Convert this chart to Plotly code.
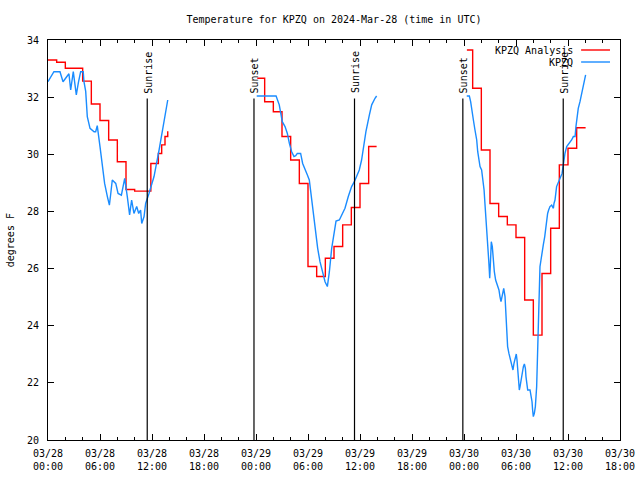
import plotly.graph_objects as go

# ---------------- data ----------------
analysis_times = [
    "2024-03-28 00:00", "2024-03-28 01:00", "2024-03-28 02:00", "2024-03-28 04:00",
    "2024-03-28 05:00", "2024-03-28 06:00", "2024-03-28 07:00", "2024-03-28 08:00",
    "2024-03-28 09:00", "2024-03-28 10:00", "2024-03-28 11:52", "2024-03-28 12:44",
    "2024-03-28 13:07", "2024-03-28 13:30", "2024-03-28 13:49",
    None,
    "2024-03-29 00:09", "2024-03-29 01:00", "2024-03-29 02:00", "2024-03-29 03:00",
    "2024-03-29 04:00", "2024-03-29 05:00", "2024-03-29 06:00", "2024-03-29 07:00",
    "2024-03-29 08:00", "2024-03-29 09:00", "2024-03-29 10:00", "2024-03-29 11:00",
    "2024-03-29 12:00", "2024-03-29 13:00", "2024-03-29 13:55",
    None,
    "2024-03-30 00:20", "2024-03-30 01:00", "2024-03-30 02:00", "2024-03-30 03:00",
    "2024-03-30 04:00", "2024-03-30 05:00", "2024-03-30 06:00", "2024-03-30 07:00",
    "2024-03-30 08:00", "2024-03-30 09:00", "2024-03-30 10:00", "2024-03-30 11:00",
    "2024-03-30 12:00", "2024-03-30 13:00", "2024-03-30 14:02",
]
analysis_temps = [
    33.30, 33.22, 33.01, 32.56, 31.76, 31.18, 30.50, 29.74, 28.77, 28.71, 29.68, 30.03,
    30.33, 30.62, 30.81,
    None,
    32.66, 31.84, 31.49, 30.62, 29.80, 28.98, 26.07, 25.72, 26.36, 26.77, 27.53, 28.14,
    28.98, 30.27, 30.27,
    None,
    33.65, 32.31, 30.15, 28.28, 27.82, 27.53, 27.09, 24.90, 23.67, 25.83, 27.41, 29.63,
    30.21, 30.93, 30.93,
]

obs_times = [
    # 03/28
    "2024-03-28 00:00", "2024-03-28 00:41", "2024-03-28 01:23", "2024-03-28 01:44",
    "2024-03-28 02:25", "2024-03-28 02:37", "2024-03-28 02:55", "2024-03-28 03:16",
    "2024-03-28 03:30", "2024-03-28 03:46", "2024-03-28 04:04", "2024-03-28 04:09",
    "2024-03-28 04:21", "2024-03-28 04:32", "2024-03-28 04:51", "2024-03-28 05:19",
    "2024-03-28 05:30", "2024-03-28 05:41", "2024-03-28 06:00", "2024-03-28 06:16",
    "2024-03-28 06:32", "2024-03-28 06:51", "2024-03-28 07:05", "2024-03-28 07:14",
    "2024-03-28 07:25", "2024-03-28 07:49", "2024-03-28 08:05", "2024-03-28 08:28",
    "2024-03-28 08:41", "2024-03-28 08:51", "2024-03-28 09:09", "2024-03-28 09:25",
    "2024-03-28 09:39", "2024-03-28 09:55", "2024-03-28 10:14", "2024-03-28 10:28",
    "2024-03-28 10:41", "2024-03-28 10:49", "2024-03-28 11:05", "2024-03-28 11:16",
    "2024-03-28 11:39", "2024-03-28 12:14", "2024-03-28 12:49", "2024-03-28 13:23",
    "2024-03-28 13:49",
    None,
    # 03/29
    "2024-03-29 00:05", "2024-03-29 02:19", "2024-03-29 02:41", "2024-03-29 02:51",
    "2024-03-29 03:02", "2024-03-29 03:21", "2024-03-29 03:37", "2024-03-29 03:51",
    "2024-03-29 04:07", "2024-03-29 04:23", "2024-03-29 04:35", "2024-03-29 04:46",
    "2024-03-29 05:09", "2024-03-29 05:23", "2024-03-29 05:39", "2024-03-29 05:55",
    "2024-03-29 06:09", "2024-03-29 06:19", "2024-03-29 06:32", "2024-03-29 06:49",
    "2024-03-29 07:07", "2024-03-29 07:23", "2024-03-29 07:41", "2024-03-29 07:58",
    "2024-03-29 08:14", "2024-03-29 08:28", "2024-03-29 08:44", "2024-03-29 09:00",
    "2024-03-29 09:14", "2024-03-29 09:37", "2024-03-29 09:53", "2024-03-29 10:16",
    "2024-03-29 10:39", "2024-03-29 11:02", "2024-03-29 11:21", "2024-03-29 11:37",
    "2024-03-29 11:55", "2024-03-29 12:11", "2024-03-29 12:23", "2024-03-29 12:41",
    "2024-03-29 13:05", "2024-03-29 13:21", "2024-03-29 13:44", "2024-03-29 13:55",
    None,
    # 03/30
    "2024-03-30 00:19", "2024-03-30 00:37", "2024-03-30 00:46", "2024-03-30 00:53",
    "2024-03-30 01:05", "2024-03-30 01:16", "2024-03-30 01:28", "2024-03-30 01:35",
    "2024-03-30 01:44", "2024-03-30 01:51", "2024-03-30 02:02", "2024-03-30 02:09",
    "2024-03-30 02:19", "2024-03-30 02:25", "2024-03-30 02:32", "2024-03-30 02:37",
    "2024-03-30 02:44", "2024-03-30 02:51", "2024-03-30 02:55", "2024-03-30 02:58",
    "2024-03-30 03:02", "2024-03-30 03:09", "2024-03-30 03:16", "2024-03-30 03:23",
    "2024-03-30 03:30", "2024-03-30 03:39", "2024-03-30 03:46", "2024-03-30 03:53",
    "2024-03-30 04:02", "2024-03-30 04:09", "2024-03-30 04:16", "2024-03-30 04:28",
    "2024-03-30 04:35", "2024-03-30 04:44", "2024-03-30 04:49", "2024-03-30 04:55",
    "2024-03-30 05:02", "2024-03-30 05:11", "2024-03-30 05:19", "2024-03-30 05:25",
    "2024-03-30 05:32", "2024-03-30 05:39", "2024-03-30 05:46", "2024-03-30 05:55",
    "2024-03-30 06:02", "2024-03-30 06:07", "2024-03-30 06:11", "2024-03-30 06:19",
    "2024-03-30 06:23", "2024-03-30 06:28", "2024-03-30 06:35", "2024-03-30 06:41",
    "2024-03-30 06:51", "2024-03-30 06:58", "2024-03-30 07:05", "2024-03-30 07:09",
    "2024-03-30 07:14", "2024-03-30 07:21", "2024-03-30 07:37", "2024-03-30 07:44",
    "2024-03-30 07:51", "2024-03-30 07:55", "2024-03-30 08:00", "2024-03-30 08:07",
    "2024-03-30 08:14", "2024-03-30 08:23", "2024-03-30 08:28", "2024-03-30 08:32",
    "2024-03-30 08:37", "2024-03-30 08:41", "2024-03-30 08:46", "2024-03-30 08:53",
    "2024-03-30 09:00", "2024-03-30 09:09", "2024-03-30 09:19", "2024-03-30 09:25",
    "2024-03-30 09:32", "2024-03-30 09:39", "2024-03-30 09:46", "2024-03-30 09:55",
    "2024-03-30 10:07", "2024-03-30 10:19", "2024-03-30 10:23", "2024-03-30 10:30",
    "2024-03-30 10:41", "2024-03-30 10:53", "2024-03-30 11:05", "2024-03-30 11:19",
    "2024-03-30 11:28", "2024-03-30 11:39", "2024-03-30 11:51", "2024-03-30 12:09",
    "2024-03-30 12:25", "2024-03-30 12:37", "2024-03-30 12:49", "2024-03-30 12:55",
    "2024-03-30 13:05", "2024-03-30 13:11", "2024-03-30 13:23", "2024-03-30 13:35",
    "2024-03-30 13:46", "2024-03-30 14:02",
]
obs_temps = [
    # 03/28
    32.54, 32.89, 32.89, 32.54, 32.82, 32.25, 32.89, 32.08,
    32.50, 32.89, 32.89, 32.54, 32.20, 31.32, 30.91, 30.79,
    30.79, 31.00, 30.27, 29.57, 28.98, 28.52, 28.22, 28.60,
    29.10, 28.98, 28.63, 28.57, 28.87, 29.16, 28.52, 27.88,
    28.40, 27.93, 28.17, 27.93, 28.05, 27.58, 27.82, 28.28,
    28.63, 29.22, 30.15, 31.20, 31.90,
    None,
    # 03/29
    32.04, 32.04, 31.73, 31.38, 31.14, 30.97, 30.73, 30.38,
    30.09, 29.92, 29.95, 30.03, 30.03, 29.68, 29.45, 29.28,
    29.10, 28.69, 28.11, 27.41, 26.71, 26.24, 25.83, 25.54,
    25.37, 25.89, 26.71, 27.29, 27.66, 27.70, 27.88, 28.11,
    28.52, 28.87, 29.04, 29.22, 29.45, 29.80, 30.21, 30.79,
    31.38, 31.73, 31.96, 32.04,
    None,
    # 03/30
    32.04, 32.04, 31.84, 31.55, 31.20, 30.85, 30.50, 30.09,
    29.68, 29.57, 29.45, 29.22, 28.75, 28.28, 27.82, 27.30,
    26.80, 26.30, 25.95, 25.66, 26.07, 26.94, 26.77, 26.30,
    25.89, 25.60, 25.48, 25.37, 25.25, 25.02, 24.84, 25.13,
    25.31, 25.02, 24.38, 23.73, 23.27, 23.03, 22.86, 22.74,
    22.57, 22.45, 22.68, 22.92, 23.01, 22.80, 22.45, 22.04,
    21.75, 21.87, 22.10, 22.33, 22.57, 22.66, 22.51, 22.22,
    21.92, 21.75, 21.75, 21.57, 21.34, 21.05, 20.82, 20.93,
    21.17, 21.87, 22.80, 23.73, 25.13, 25.83, 26.07, 26.30,
    26.48, 26.83, 27.12, 27.41, 27.64, 27.93, 28.05, 28.17,
    28.22, 28.11, 28.28, 28.40, 28.87, 29.04, 29.16, 29.33,
    29.74, 30.03, 30.27, 30.38, 30.50, 30.62, 30.62, 30.97,
    31.32, 31.61, 31.84, 32.13, 32.48, 32.78,
]

sun_times = ["2024-03-28 11:27", "2024-03-28 23:46", "2024-03-29 11:22",
             "2024-03-29 23:52", "2024-03-30 11:27"]
sun_labels = ["Sunrise", "Sunset", "Sunrise", "Sunset", "Sunrise"]
sun_line_top = 31.95

series_names = ["KPZQ Analysis", "KPZQ"]
series_colors = ["#ff0000", "#1a8cff"]

title_text = "Temperature for KPZQ on 2024-Mar-28 (time in UTC)"
y_title = "degrees F"
x_range = ["2024-03-28 00:00", "2024-03-30 18:00"]
y_range = [20, 34]

FONT = "DejaVu Sans Mono"

# ---------------- figure ----------------
fig = go.Figure()
fig.add_trace(go.Scatter(x=analysis_times, y=analysis_temps, mode="lines",
                         line=dict(color=series_colors[0], width=1.4, shape="hv"),
                         name=series_names[0], connectgaps=False, showlegend=False))
fig.add_trace(go.Scatter(x=obs_times, y=obs_temps, mode="lines",
                         line=dict(color=series_colors[1], width=1.4),
                         name=series_names[1], connectgaps=False, showlegend=False))

for t, lab in zip(sun_times, sun_labels):
    fig.add_shape(type="line", xref="x", yref="y", x0=t, x1=t, y0=y_range[0], y1=sun_line_top,
                  line=dict(color="black", width=1.2))
    fig.add_annotation(x=t, y=sun_line_top, xref="x", yref="y", text=lab, textangle=-90,
                       showarrow=False, xanchor="center", yanchor="bottom", yshift=3, xshift=1,
                       font=dict(family=FONT, size=10, color="black"))

# legend (gnuplot style: text then sample line to the right)
legend_rows = [0.975, 0.945]
for name, col, yy in zip(series_names, series_colors, legend_rows):
    fig.add_annotation(x=0.9213, y=yy, xref="paper", yref="paper", text=name, showarrow=False,
                       xanchor="right", yanchor="middle",
                       font=dict(family=FONT, size=10, color="black"))
    fig.add_shape(type="line", xref="paper", yref="paper", x0=0.932, x1=0.9825, y0=yy, y1=yy,
                  line=dict(color=col, width=1.4))

fig.add_annotation(x=-0.066, y=0.5, xref="paper", yref="paper", text=y_title, textangle=-90,
                   showarrow=False, xanchor="center", yanchor="middle",
                   font=dict(family=FONT, size=10, color="black"))

fig.update_layout(
    width=640, height=480,
    margin=dict(l=48, r=20, t=40, b=40, autoexpand=False),
    paper_bgcolor="white", plot_bgcolor="white",
    title=dict(text=title_text, x=0.5, xref="paper", xanchor="center",
               y=1 - 19 / 480, yref="container", yanchor="middle", automargin=False,
               font=dict(family=FONT, size=10, color="black")),
    font=dict(family=FONT, size=10, color="black"),
    showlegend=False,
)
fig.update_xaxes(type="date", range=x_range, dtick=6 * 3600 * 1000,
                 tick0="2024-03-28 00:00", tickformat="%m/%d<br>%H:%M",
                 ticks="inside", ticklen=6, tickcolor="black", tickwidth=1,
                 showline=True, linecolor="black", linewidth=1, mirror="allticks",
                 showgrid=False, zeroline=False, ticklabelstandoff=4, automargin=False,
                 minor=dict(dtick=2 * 3600 * 1000, ticks="inside", ticklen=3,
                            tickcolor="black", showgrid=False),
                 tickfont=dict(family=FONT, size=10, color="black"))
fig.update_yaxes(range=y_range, dtick=2, ticks="inside", ticklen=6, tickcolor="black",
                 showline=True, linecolor="black", linewidth=1, mirror="allticks",
                 showgrid=False, zeroline=False, ticklabelstandoff=6, automargin=False,
                 tickfont=dict(family=FONT, size=10, color="black"))

fig.write_html("out.html", config={"displayModeBar": False},
               post_script="document.body.style.margin='0px';")
